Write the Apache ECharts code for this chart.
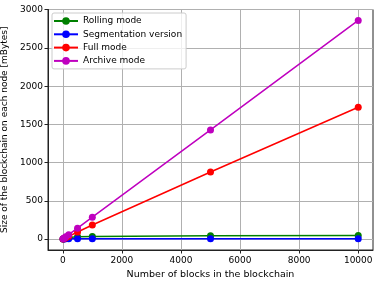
<!DOCTYPE html>
<html><head><meta charset="utf-8">
<script src="https://cdn.jsdelivr.net/npm/echarts@6/dist/echarts.min.js"></script>
<style>html,body{margin:0;padding:0;background:#fff}#c{width:382px;height:285px}</style>
</head><body><div id="c"></div>
<script>
const blocks = [10, 50, 100, 200, 500, 1000, 5000, 10000];
const rolling = [2, 8, 12, 20, 30, 35, 42, 48];
const segmentation = [1, 2, 3, 4, 5, 5, 5, 5];
const full = [2, 9, 18, 36, 92, 184, 878, 1725];
const archive = [3, 14, 29, 57, 143, 286, 1428, 2860];
const xTicks = [0, 2000, 4000, 6000, 8000, 10000];
const yTicks = [0, 500, 1000, 1500, 2000, 2500, 3000];
const names = ['Rolling mode', 'Segmentation version', 'Full mode', 'Archive mode'];
const colors = ['#008000', '#0000ff', '#ff0000', '#bf00bf'];
const seriesData = [rolling, segmentation, full, archive];

const font = 'DejaVu Sans';
const fs = 9;
const chart = echarts.init(document.getElementById('c'), null, {renderer: 'canvas'});
chart.setOption({
  animation: false,
  backgroundColor: '#fff',
  grid: {left: 48, top: 9.5, right: 9, bottom: 35, show: true, borderColor: '#222', borderWidth: 1,
         containLabel: false, outerBoundsMode: 'none'},
  legend: {
    left: 52, top: 13, orient: 'vertical', itemGap: 4.3, itemWidth: 24, itemHeight: 9.5,
    backgroundColor: 'rgba(255,255,255,0.8)', borderColor: '#ccc', borderWidth: 1, borderRadius: 2,
    padding: [3.5, 4, 3.5, 1],
    textStyle: {fontFamily: font, fontSize: fs, color: '#000'},
    data: names
  },
  xAxis: {
    type: 'value', min: -500, max: 10500,
    name: 'Number of blocks in the blockchain', nameLocation: 'middle', nameGap: 19,
    nameTextStyle: {fontFamily: font, fontSize: 9.5, color: '#000'},
    axisLine: {show: true, onZero: false, lineStyle: {color: '#222'}},
    axisTick: {show: true, length: 3.5, lineStyle: {color: '#222'}, customValues: xTicks},
    axisLabel: {fontFamily: font, fontSize: fs, color: '#000', margin: 6, customValues: xTicks,
                formatter: v => String(v)},
    splitLine: {show: true, lineStyle: {color: '#b0b0b0', width: 1}}
  },
  yAxis: {
    type: 'value', min: -143, max: 3003,
    name: 'Size of the blockchain on each node [mBytes]', nameLocation: 'middle', nameGap: 30,
    nameTextStyle: {fontFamily: font, fontSize: 9, color: '#000'},
    axisLine: {show: true, onZero: false, lineStyle: {color: '#222'}},
    axisTick: {show: true, length: 3.5, lineStyle: {color: '#222'}, customValues: yTicks},
    axisLabel: {fontFamily: font, fontSize: fs, color: '#000', margin: 5, customValues: yTicks,
                formatter: v => String(v)},
    splitLine: {show: true, lineStyle: {color: '#b0b0b0', width: 1}}
  },
  series: names.map((n, i) => ({
    name: n, type: 'line',
    data: blocks.map((b, j) => [b, seriesData[i][j]]),
    symbol: 'circle', symbolSize: 7,
    itemStyle: {color: colors[i]},
    lineStyle: {color: colors[i], width: 1.5},
    z: 2 + i
  }))
});
</script></body></html>
